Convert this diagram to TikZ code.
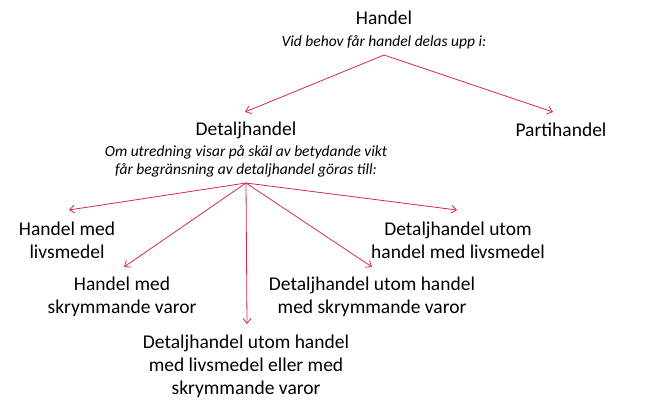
\documentclass[tikz,border=0pt]{standalone}
\usepackage{fontspec}
\setmainfont{Carlito}
\usetikzlibrary{positioning, arrows.meta}
\definecolor{arrowred}{RGB}{214,40,70}

\begin{document}
\begin{tikzpicture}[
    x=1pt, y=-1pt,
    title/.style={font=\fontsize{19.5}{23}\selectfont, align=center, inner sep=0pt},
    note/.style={font=\fontsize{15.5}{18}\selectfont\itshape, align=center, inner sep=0pt},
    arrow/.style={-{Straight Barb[length=5pt, width=8pt]}, line width=0.8pt, color=arrowred}
]
\useasboundingbox (0,0) rectangle (671,413);

% Top level
\node[title] (handel) at (384,18) {Handel};
\node[note] (behov) at (384,42) {Vid behov får handel delas upp i:};
\coordinate (split) at (384,55);

\node[title] (detalj) at (246,130) {Detaljhandel};
\node[title] (parti) at (561,130) {Partihandel};
\node[note] (utredning) at (246,161) {Om utredning visar på skäl av betydande vikt\\får begränsning av detaljhandel göras till:};
\coordinate (split2) at (246,183);

% Arrow ends
\coordinate (toDetalj) at (245,112);
\coordinate (toParti) at (553,112);
\coordinate (toLivs) at (69,210);
\coordinate (toUtomLivs) at (457,210);
\coordinate (toSkrym) at (124,267);
\coordinate (toUtomSkrym) at (372,267);
\coordinate (toUtomBada) at (247,324);

\draw[arrow] (split) -- (toDetalj);
\draw[arrow] (split) -- (toParti);

% Second level
\node[title] (livs) at (67,240) {Handel med\\livsmedel};
\node[title] (utomlivs) at (458,240) {Detaljhandel utom\\handel med livsmedel};
\node[title] (skrym) at (122,297) {Handel med\\skrymmande varor};
\node[title] (utomskrym) at (372,297) {Detaljhandel utom handel\\med skrymmande varor};
\node[title] (utombada) at (246,366) {Detaljhandel utom handel\\med livsmedel eller med\\skrymmande varor};

\draw[arrow] (split2) -- (toLivs);
\draw[arrow] (split2) -- (toUtomLivs);
\draw[arrow] (split2) -- (toSkrym);
\draw[arrow] (split2) -- (toUtomSkrym);
\draw[arrow] (split2) -- (toUtomBada);

\end{tikzpicture}
\end{document}
